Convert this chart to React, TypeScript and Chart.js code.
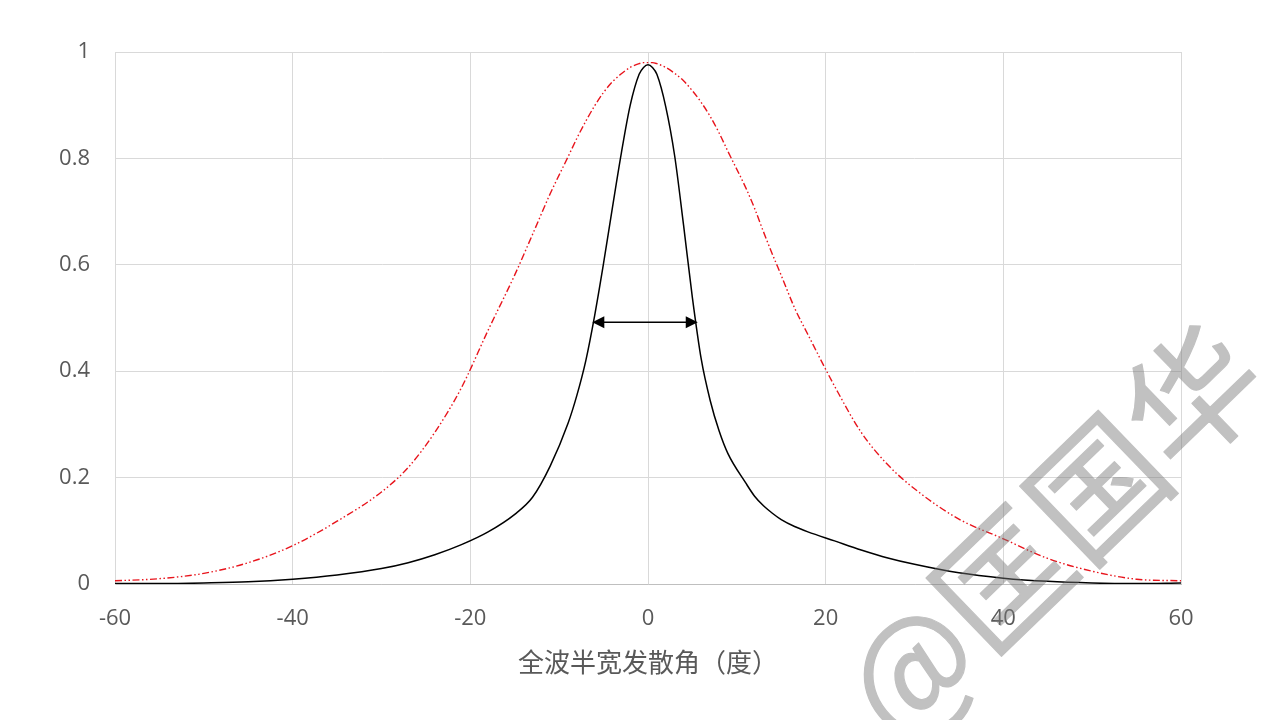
import React, { useEffect, useRef } from "react";
import { Chart, registerables } from "chart.js";

Chart.register(...registerables);

// Divergence angle (degrees)
const angles = [-60, -55, -50, -45, -40, -35, -30, -27, -24, -21, -18, -15, -13, -11, -9, -8, -7, -6, -5, -4, -3, -2, -1, -0.5, 0, 0.5, 1, 2, 3, 4, 5, 6, 7, 8, 9, 11, 12, 13, 14, 15, 16.5, 18, 21, 24, 27, 30, 35, 40, 45, 50, 55, 60];

// Narrow beam (black solid)
const narrowBeam = [0.001, 0.001, 0.002, 0.004, 0.009, 0.017, 0.029, 0.040, 0.055, 0.074, 0.098, 0.131, 0.163, 0.222, 0.302, 0.355, 0.420, 0.505, 0.603, 0.708, 0.810, 0.900, 0.958, 0.971, 0.976, 0.971, 0.958, 0.897, 0.805, 0.675, 0.538, 0.422, 0.345, 0.288, 0.245, 0.190, 0.165, 0.147, 0.133, 0.121, 0.108, 0.098, 0.081, 0.064, 0.049, 0.037, 0.021, 0.011, 0.005, 0.002, 0.001, 0.002];

// Wide beam (red dash-dot-dot)
const wideBeam = [0.006, 0.010, 0.020, 0.040, 0.072, 0.118, 0.173, 0.219, 0.285, 0.369, 0.477, 0.581, 0.657, 0.734, 0.803, 0.838, 0.870, 0.899, 0.924, 0.944, 0.959, 0.971, 0.978, 0.980, 0.980, 0.980, 0.978, 0.971, 0.960, 0.946, 0.927, 0.905, 0.879, 0.848, 0.813, 0.745, 0.706, 0.662, 0.620, 0.580, 0.519, 0.469, 0.372, 0.285, 0.224, 0.179, 0.122, 0.085, 0.048, 0.024, 0.009, 0.006];

// FWHM arrow
const arrowX = [-6.27, 5.6];
const arrowY = 0.492;

const xTicks = [-60, -40, -20, 0, 20, 40, 60];
const yTicks = [0, 0.2, 0.4, 0.6, 0.8, 1];

const xTitle = "全波半宽发散角（度）";
const watermark = "@匡国华";

const arrowPlugin = {
  id: "fwhmArrow",
  afterDatasetsDraw(chart: any) {
    const { ctx, scales } = chart;
    const x1 = scales.x.getPixelForValue(arrowX[0]);
    const x2 = scales.x.getPixelForValue(arrowX[1]);
    const y = scales.y.getPixelForValue(arrowY);
    const hl = 12;
    const hw = 6;
    ctx.save();
    ctx.strokeStyle = "#000";
    ctx.fillStyle = "#000";
    ctx.lineWidth = 1.5;
    ctx.beginPath();
    ctx.moveTo(x1 + hl - 2, y);
    ctx.lineTo(x2 - hl + 2, y);
    ctx.stroke();
    ctx.beginPath();
    ctx.moveTo(x1, y);
    ctx.lineTo(x1 + hl, y - hw);
    ctx.lineTo(x1 + hl, y + hw);
    ctx.closePath();
    ctx.fill();
    ctx.beginPath();
    ctx.moveTo(x2, y);
    ctx.lineTo(x2 - hl, y - hw);
    ctx.lineTo(x2 - hl, y + hw);
    ctx.closePath();
    ctx.fill();
    ctx.restore();
  },
};

const watermarkPlugin = {
  id: "watermark",
  afterDraw(chart: any) {
    const { ctx, width, height } = chart;
    const layer = document.createElement("canvas");
    layer.width = width;
    layer.height = height;
    const lc = layer.getContext("2d");
    if (!lc) return;
    lc.translate(1052, 531);
    lc.rotate((-44 * Math.PI) / 180);
    lc.font = '132px "Noto Sans CJK SC"';
    lc.fillStyle = "rgb(120,120,120)";
    lc.strokeStyle = "rgb(120,120,120)";
    lc.lineWidth = 1.2;
    lc.lineJoin = "round";
    lc.textAlign = "center";
    lc.textBaseline = "middle";
    lc.fillText(watermark, 0, 0);
    lc.strokeText(watermark, 0, 0);
    ctx.save();
    ctx.globalAlpha = 0.46;
    ctx.drawImage(layer, 0, 0);
    ctx.restore();
  },
};

export default function App() {
  const canvasRef = useRef<HTMLCanvasElement | null>(null);

  useEffect(() => {
    const canvas = canvasRef.current;
    if (!canvas) return;
    const chart = new Chart(canvas, {
      type: "scatter",
      data: {
        datasets: [
          {
            label: "wide",
            data: angles.map((x, i) => ({ x, y: wideBeam[i] })),
            showLine: true,
            borderColor: "#e8141c",
            borderWidth: 1.4,
            borderDash: [7, 2.5, 1.5, 2.5, 1.5, 2.5],
            pointRadius: 0,
            cubicInterpolationMode: "monotone",
          },
          {
            label: "narrow",
            data: angles.map((x, i) => ({ x, y: narrowBeam[i] })),
            showLine: true,
            borderColor: "#000000",
            borderWidth: 1.5,
            pointRadius: 0,
            cubicInterpolationMode: "monotone",
          },
        ],
      },
      options: {
        animation: false,
        responsive: false,
        maintainAspectRatio: false,
        layout: { padding: { left: 0, right: 99, top: 52, bottom: 0 } },
        plugins: {
          legend: { display: false },
          tooltip: { enabled: false },
        },
        scales: {
          x: {
            type: "linear",
            min: -60,
            max: 60,
            afterFit: (s: any) => {
              s.height = 136;
            },
            afterBuildTicks: (s: any) => {
              s.ticks = xTicks.map((v) => ({ value: v }));
            },
            border: { color: "#bfbfbf", width: 1 },
            grid: { color: "#d9d9d9", lineWidth: 1, drawTicks: false },
            ticks: {
              padding: 22,
              color: "#595959",
              font: { family: '"Open Sans", sans-serif', size: 22 },
            },
            title: {
              display: true,
              text: xTitle,
              color: "#595959",
              font: { family: '"Noto Sans CJK SC", sans-serif', size: 26 },
              padding: { top: 0, bottom: 42 },
            },
          },
          y: {
            type: "linear",
            min: 0,
            max: 1,
            afterFit: (s: any) => {
              s.width = 115;
            },
            afterBuildTicks: (s: any) => {
              s.ticks = yTicks.map((v) => ({ value: v }));
            },
            border: { color: "#d9d9d9", width: 1 },
            grid: { color: "#d9d9d9", lineWidth: 1, drawTicks: false },
            ticks: {
              padding: 25,
              color: "#595959",
              font: { family: '"Open Sans", sans-serif', size: 22 },
              callback: (v: any) => String(Number(Number(v).toFixed(1))),
            },
          },
        },
      },
      plugins: [arrowPlugin, watermarkPlugin],
    });
    return () => chart.destroy();
  }, []);

  return (
    <div style={{ position: "absolute", left: 0, top: 0, width: 1280, height: 720, background: "#fff" }}>
      <canvas ref={canvasRef} width={1280} height={720} style={{ width: 1280, height: 720 }} />
    </div>
  );
}
